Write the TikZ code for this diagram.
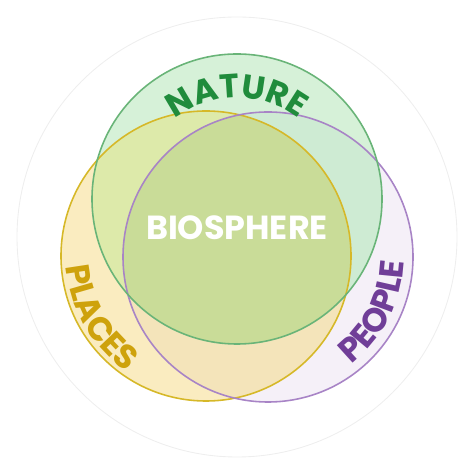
\documentclass[tikz,border=0pt]{standalone}
\usepackage{fontspec}
\newfontfamily\vennfont{Poppins}
\usetikzlibrary{decorations.text}

\definecolor{outerline}{RGB}{238,238,238}
\definecolor{naturefill}{RGB}{214,241,216}
\definecolor{placesfill}{RGB}{250,236,192}
\definecolor{peoplefill}{RGB}{245,240,248}
\definecolor{placespeoplefill}{RGB}{244,228,186}
\definecolor{natureplacesfill}{RGB}{221,234,170}
\definecolor{naturepeoplefill}{RGB}{206,235,211}
\definecolor{biospherefill}{RGB}{201,220,152}
\definecolor{natureline}{RGB}{105,180,120}
\definecolor{placesline}{RGB}{214,184,40}
\definecolor{peopleline}{RGB}{168,132,198}
\definecolor{naturetext}{RGB}{32,140,60}
\definecolor{placestext}{RGB}{206,162,12}
\definecolor{peopletext}{RGB}{112,62,152}

\newcommand{\vennr}{2.9cm}
\newcommand{\vennsize}{\vennfont\bfseries\fontsize{19}{19}\selectfont}

\begin{document}
\begin{tikzpicture}

\tikzset{ring/.style = {line width=0.9pt}}
\tikzset{arcnature/.style = {decorate, decoration={text along path, text align=center,
  text color=naturetext, text={|\vennsize|NATURE}}}}
\tikzset{arcplaces/.style = {decorate, decoration={text along path, text align=center,
  text color=placestext, text={|\vennsize|PLACES}}}}
\tikzset{arcpeople/.style = {decorate, decoration={text along path, text align=center,
  text color=peopletext, text={|\vennsize|PEOPLE}}}}

\useasboundingbox (-4.74,-4.74) rectangle (4.74,4.74);

\coordinate (nature) at (0,0.76);
\coordinate (places) at (-0.62,-0.38);
\coordinate (people) at (0.62,-0.40);

\draw[outerline, line width=0.5pt] (0,0) circle[radius=4.4cm];

\fill[placesfill] (places) circle[radius=\vennr];
\fill[peoplefill] (people) circle[radius=\vennr];
\begin{scope}
\clip (places) circle[radius=\vennr];
\fill[placespeoplefill] (people) circle[radius=\vennr];
\end{scope}
\fill[naturefill] (nature) circle[radius=\vennr];
\begin{scope}
\clip (nature) circle[radius=\vennr];
\fill[natureplacesfill] (places) circle[radius=\vennr];
\fill[naturepeoplefill] (people) circle[radius=\vennr];
\clip (people) circle[radius=\vennr];
\fill[biospherefill] (places) circle[radius=\vennr];
\end{scope}

\draw[ring, placesline] (places) circle[radius=\vennr];
\draw[ring, peopleline] (people) circle[radius=\vennr];
\draw[ring, natureline] (nature) circle[radius=\vennr];

\path[arcnature] ([shift={(145:2.02)}]nature) arc[start angle=145, end angle=35, radius=2.02cm];
\path[arcplaces] ([shift={(168:2.8)}]places) arc[start angle=168, end angle=252, radius=2.8cm];
\path[arcpeople] ([shift={(-68:2.72)}]people) arc[start angle=-68, end angle=14, radius=2.72cm];

\node[font=\vennfont\bfseries\fontsize{19}{19}\selectfont, text=white] (biosphere) at (0,0.18) {BIOSPHERE};

\end{tikzpicture}
\end{document}
